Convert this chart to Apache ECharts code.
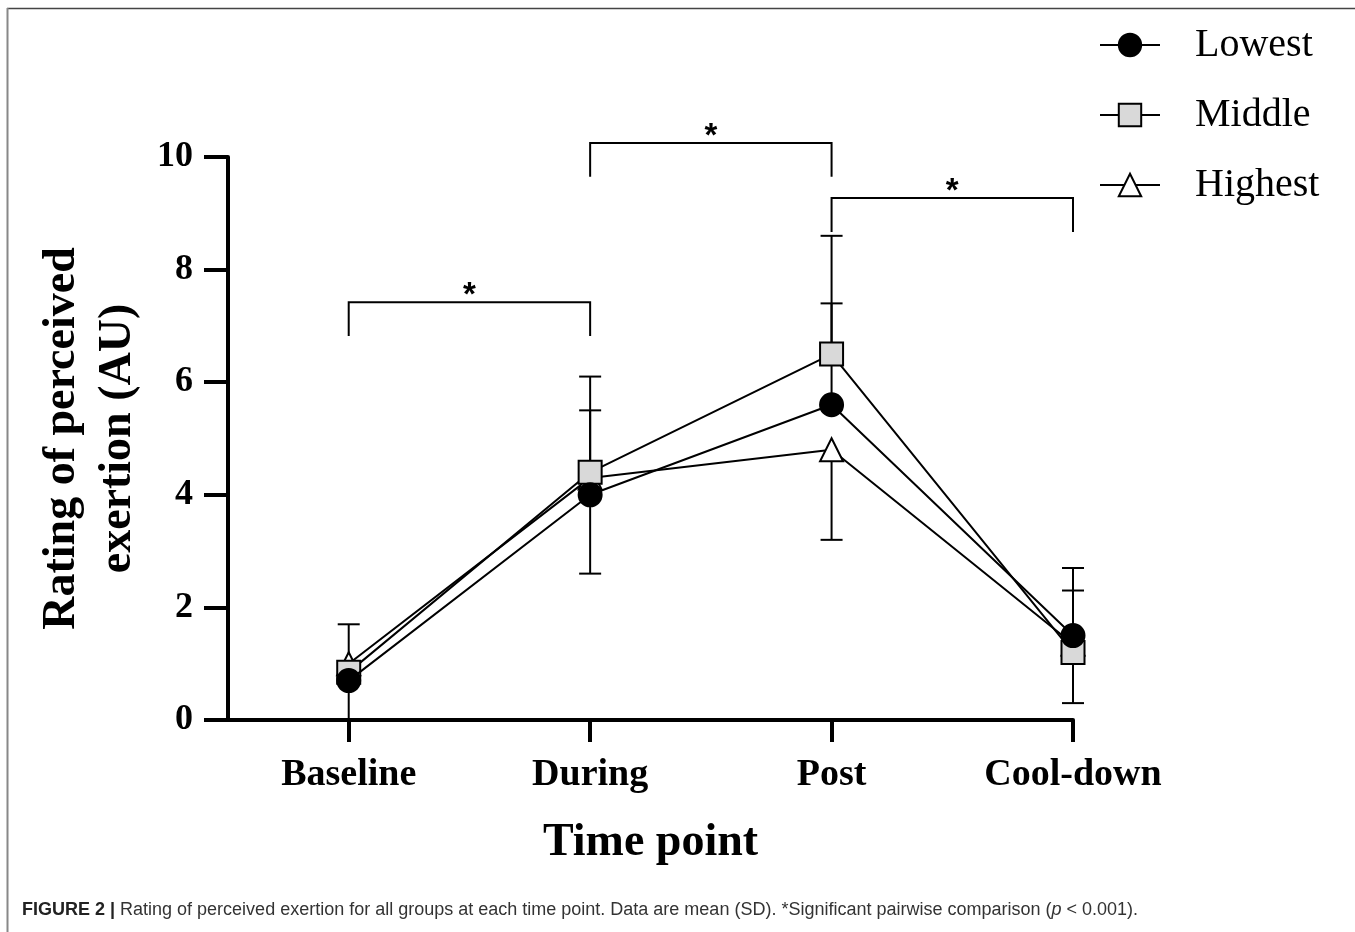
<!DOCTYPE html>
<html>
<head>
<meta charset="utf-8">
<script src="https://cdn.jsdelivr.net/npm/echarts@6.0.0/dist/echarts.min.js"></script>
<style>
html,body{margin:0;padding:0;background:#fff;}
#chart{width:1355px;height:932px;}
</style>
</head>
<body>
<div id="chart"></div>
<script>
// ---- data ----
const categories = ['Baseline', 'During', 'Post', 'Cool-down'];
const groupNames = ['Lowest', 'Middle', 'Highest'];
const lowestMean = [0.7, 4.0, 5.6, 1.5];
const lowestSD = [0.25, 1.5, 1.8, 0.8];
const middleMean = [0.85, 4.4, 6.5, 1.2];
const middleSD = [0.85, 1.7, 2.1, 1.5];
const highestMean = [1.0, 4.3, 4.8, 1.35];
const highestSD = [1.1, 1.7, 1.6, 1.05];
// error bar direction drawn (+1 above, -1 below)
const errorDir = [1, 1, -1];
const yTicks = [0, 2, 4, 6, 8, 10];
// significance brackets: from category, to category, level (AU)
const bracketFrom = [0, 1, 2];
const bracketTo = [1, 2, 3];
const bracketLevel = [7.42, 10.25, 9.27];
const bracketDrop = 0.6;
const sigMark = '*';
const caption = 'Rating of perceived exertion for all groups at each time point. Data are mean (SD). *Significant pairwise comparison (';

const means = [lowestMean, middleMean, highestMean];
const sds = [lowestSD, middleSD, highestSD];
const serif = 'Liberation Serif, Times New Roman, serif';
const sans = 'Liberation Sans, Arial, sans-serif';

function lineData(m) { return m.map((v, i) => [i, v]); }

const errData = [];
means.forEach((m, g) => {
  m.forEach((v, i) => errData.push([i, v, sds[g][i] * errorDir[g], g]));
});

const bracketData = bracketFrom.map((f, k) => [f, bracketTo[k], bracketLevel[k]]);

const chart = echarts.init(document.getElementById('chart'));
const black = '#000';

chart.setOption({
  animation: false,
  backgroundColor: '#fff',
  grid: { left: 228, right: 282, top: 157, bottom: 212, containLabel: false },
  xAxis: {
    type: 'value', min: -0.5, max: 3,
    name: 'Time point', nameLocation: 'middle', nameGap: 100,
    nameTextStyle: { fontFamily: serif, fontWeight: 'bold', fontSize: 46, color: black },
    axisLine: { show: true, onZero: false, lineStyle: { color: black, width: 4 } },
    axisTick: { show: true, customValues: [0, 1, 2, 3], length: 22, lineStyle: { color: black, width: 4 } },
    axisLabel: {
      customValues: [0, 1, 2, 3], margin: 36,
      formatter: v => categories[Math.round(v)] || '',
      fontFamily: serif, fontWeight: 'bold', fontSize: 38, color: black
    },
    splitLine: { show: false }
  },
  yAxis: {
    type: 'value', min: 0, max: 10, interval: 2,
    name: 'Rating of perceived\nexertion (AU)', nameLocation: 'middle', nameGap: 82,
    nameTextStyle: { fontFamily: serif, fontWeight: 'bold', fontSize: 46, lineHeight: 56, color: black },
    axisLine: { show: true, onZero: false, lineStyle: { color: black, width: 4 } },
    axisTick: { show: true, length: 24, lineStyle: { color: black, width: 4 } },
    axisLabel: {
      margin: 35, fontFamily: serif, fontWeight: 'bold', fontSize: 36, color: black,
      formatter: v => (yTicks.indexOf(v) >= 0 ? String(v) : '')
    },
    splitLine: { show: false }
  },
  legend: {
    orient: 'vertical', left: 1094, top: 16,
    itemWidth: 60, itemHeight: 28, itemGap: 22,
    data: groupNames,
    textStyle: { fontFamily: serif, fontSize: 40, lineHeight: 48, color: black, padding: [0, 0, 0, 30] }
  },
  graphic: [
    { type: 'line', shape: { x1: 7, y1: 8.5, x2: 1355, y2: 8.5 }, style: { stroke: '#444', lineWidth: 1.5 }, silent: true },
    { type: 'line', shape: { x1: 7.5, y1: 8, x2: 7.5, y2: 932 }, style: { stroke: '#888', lineWidth: 2 }, silent: true },
    {
      type: 'text', left: 22, top: 901, silent: true,
      style: {
        text: '{b|FIGURE 2 |} ' + caption + '{i|p} < 0.001).',
        fontFamily: sans, fontSize: 18, fill: '#333',
        rich: {
          b: { fontFamily: sans, fontSize: 18, fontWeight: 'bold', fill: '#222' },
          i: { fontFamily: sans, fontSize: 18, fontStyle: 'italic', fill: '#333' }
        }
      }
    }
  ],
  series: [
    {
      type: 'custom', name: 'errorbars', z: 1, clip: false, silent: true,
      data: errData,
      renderItem: function (params, api) {
        const x = api.value(0), m = api.value(1), d = api.value(2);
        let end = m + d;
        let cap = true;
        if (end < 0) { end = 0; cap = false; }
        const p0 = api.coord([x, m]);
        const p1 = api.coord([x, end]);
        const children = [{
          type: 'line', shape: { x1: p0[0], y1: p0[1], x2: p1[0], y2: p1[1] },
          style: { stroke: black, lineWidth: 2 }
        }];
        if (cap) children.push({
          type: 'line', shape: { x1: p1[0] - 11, y1: p1[1], x2: p1[0] + 11, y2: p1[1] },
          style: { stroke: black, lineWidth: 2 }
        });
        return { type: 'group', children: children };
      }
    },
    {
      type: 'custom', name: 'brackets', z: 1, clip: false, silent: true,
      data: bracketData,
      renderItem: function (params, api) {
        const a = api.value(0), b = api.value(1), lv = api.value(2);
        const pa = api.coord([a, lv]);
        const pb = api.coord([b, lv]);
        const pd = api.coord([a, lv - bracketDrop]);
        return {
          type: 'group', children: [
            { type: 'polyline', shape: { points: [[pa[0], pd[1]], [pa[0], pa[1]], [pb[0], pb[1]], [pb[0], pd[1]]] },
              style: { stroke: black, lineWidth: 2, fill: null } },
            { type: 'text', x: (pa[0] + pb[0]) / 2, y: pa[1] - 6,
              style: { text: sigMark, fontFamily: sans, fontWeight: 'bold', fontSize: 33,
                fill: black, align: 'center', verticalAlign: 'middle' } }
          ]
        };
      }
    },
    {
      type: 'line', name: 'Highest', z: 2, data: lineData(highestMean),
      symbol: 'triangle', symbolSize: 23,
      lineStyle: { color: black, width: 2 },
      itemStyle: { color: '#fff', borderColor: black, borderWidth: 2 },
      emphasis: { disabled: true }
    },
    {
      type: 'line', name: 'Middle', z: 3, data: lineData(middleMean),
      symbol: 'rect', symbolSize: 23,
      lineStyle: { color: black, width: 2 },
      itemStyle: { color: '#d9d9d9', borderColor: black, borderWidth: 2 },
      emphasis: { disabled: true }
    },
    {
      type: 'line', name: 'Lowest', z: 4, data: lineData(lowestMean),
      symbol: 'circle', symbolSize: 23,
      lineStyle: { color: black, width: 2 },
      itemStyle: { color: black, borderColor: black, borderWidth: 2 },
      emphasis: { disabled: true }
    }
  ]
});
</script>
</body>
</html>
